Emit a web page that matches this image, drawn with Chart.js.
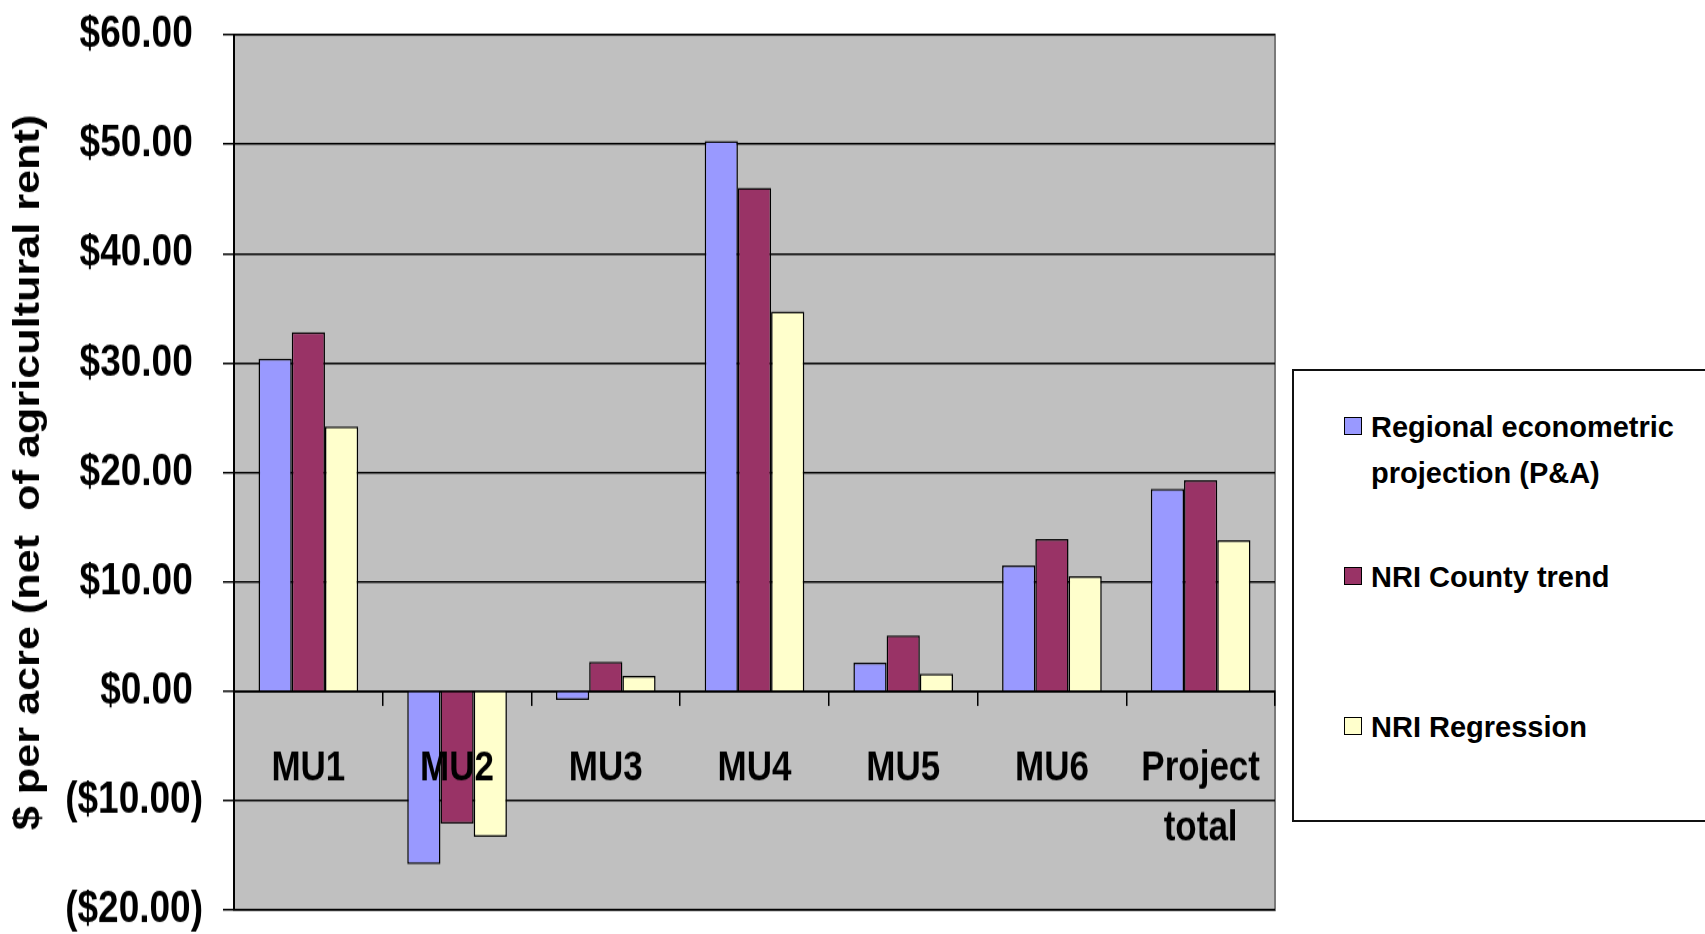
<!DOCTYPE html>
<html>
<head>
<meta charset="utf-8">
<script src="https://cdn.jsdelivr.net/npm/chart.js@4/dist/chart.umd.min.js"></script>
<style>
  body { margin: 0; background: #fff; }
  #wrap { position: relative; width: 1705px; height: 934px; overflow: hidden; }
  /* the source picture is stretched vertically, so the canvas is drawn shorter and shown at full height */
  #myChart { width: 1705px; height: 934px; }
  #legend {
    position: absolute; left: 1292px; top: 369px; width: 440px; height: 453px;
    border: 2px solid #111; box-sizing: border-box; background: #fff;
    font-family: "Liberation Sans", Arial, sans-serif; font-weight: bold; font-size: 29px;
  }
  .item { position: absolute; left: 50px; display: flex; align-items: flex-start; }
  .box { width: 16px; height: 16px; border: 1.5px solid #000; margin-top: 13px; margin-right: 9px; flex: none; }
  .txt { max-width: 320px; line-height: 46px; color: #000; }
</style>
</head>
<body>
<div id="wrap">
  <canvas id="myChart" width="1705" height="778" style="width:1705px;height:934px"></canvas>
  <div id="legend"></div>
</div>
<script>
const categories = ['MU1', 'MU2', 'MU3', 'MU4', 'MU5', 'MU6', ['Project', 'total']];
const seriesNames = ['Regional econometric projection (P&A)', 'NRI County trend', 'NRI Regression'];
const regionalValues = [30.4, -15.8, -0.8, 50.3, 2.6, 11.5, 18.5];
const countyValues = [32.8, -12.1, 2.7, 46.0, 5.1, 13.9, 19.3];
const regressionValues = [24.2, -13.3, 1.4, 34.7, 1.6, 10.5, 13.8];
const seriesColors = ['#9999FF', '#993366', '#FFFFCC'];
const yMin = -20, yMax = 60, yStep = 10;

const plotBg = {
	id: 'plotBg',
	beforeDraw(chart) {
		const { ctx, chartArea: a } = chart;
		ctx.save();
		ctx.fillStyle = '#C0C0C0';
		ctx.fillRect(a.left, a.top, a.right - a.left, a.bottom - a.top);
		ctx.strokeStyle = '#7a7a7a';
		ctx.lineWidth = 2;
		ctx.strokeRect(a.left, a.top, a.right - a.left, a.bottom - a.top);
		ctx.restore();
	}
};

const sans = '"Liberation Sans", Arial, sans-serif';

const data = {
	labels: categories,
	datasets: [regionalValues, countyValues, regressionValues].map((vals, i) => ({
		label: seriesNames[i],
		data: vals,
		backgroundColor: seriesColors[i],
		borderColor: '#000',
		borderWidth: 1.5,
		categoryPercentage: 0.67,
		barPercentage: 1.0
	}))
};

const config = {
	type: 'bar',
	data,
	plugins: [plotBg],
	options: {
		responsive: false,
		devicePixelRatio: 1,
		animation: false,
		layout: { padding: { top: 29, right: 430, bottom: 20, left: 0 } },
		plugins: { legend: { display: false }, tooltip: { enabled: false } },
		scales: {
			x: {
				position: { y: 0 },
				grid: { drawOnChartArea: false, drawTicks: true, tickLength: 11, color: '#000', lineWidth: 1.5 },
				border: { display: true, color: '#000', width: 2 },
				ticks: {
					z: 1, // labels go over the bars (MU2)
					autoSkip: false, maxRotation: 0, color: '#000', padding: 29,
					font: { family: sans, weight: 'bold', size: 35, lineHeight: 1.43 }
				}
			},
			y: {
				min: yMin, max: yMax,
				afterFit(scale) {
					scale.width = 234;
					scale.paddingTop = 0;
					scale.paddingBottom = 0;
				},
				grid: { color: '#000', lineWidth: 1.5, tickLength: 11 },
				border: { display: true, color: '#000', width: 2 },
				ticks: {
					stepSize: yStep, color: '#000', padding: 20,
					font: { family: sans, weight: 'bold', size: 37, lineHeight: 1.0 },
					callback: v => v >= 0 ? '$' + v.toFixed(2) + ' ' : '($' + Math.abs(v).toFixed(2) + ')'
				},
				title: {
					display: true, text: '$ per acre (net  of agricultural rent)', color: '#000',
					padding: { top: 11, bottom: 0 },
					font: { family: sans, weight: 'bold', size: 36, lineHeight: 1.0 }
				}
			}
		}
	}
};

const myChart = new Chart(document.getElementById('myChart'), config);

// legend, built from the dataset names/colors
const legendEl = document.getElementById('legend');
const itemTops = [33, 183, 333];
seriesNames.forEach((name, i) => {
	const item = document.createElement('div');
	item.className = 'item';
	item.style.top = itemTops[i] + 'px';
	item.innerHTML = `<div class="box" style="background:${seriesColors[i]}"></div><div class="txt"></div>`;
	item.querySelector('.txt').textContent = name;
	legendEl.appendChild(item);
});
</script>
</body>
</html>
